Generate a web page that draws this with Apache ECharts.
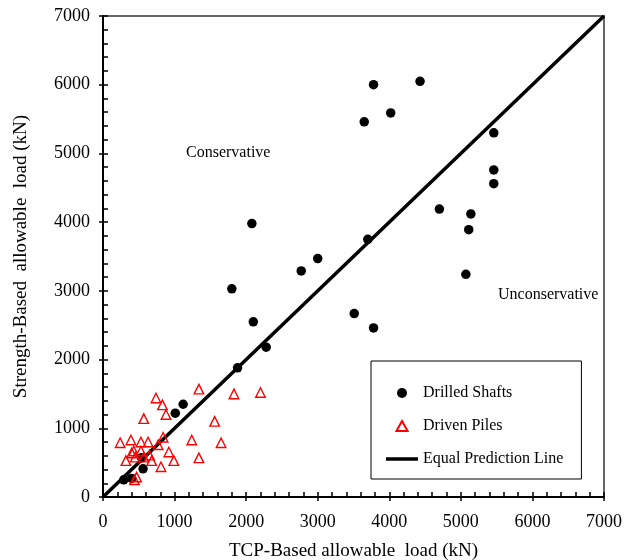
<!DOCTYPE html>
<html>
<head>
<meta charset="utf-8">
<script src="https://cdn.jsdelivr.net/npm/echarts@6/dist/echarts.min.js"></script>
<style>html,body{margin:0;padding:0;background:#fff}#c{width:633px;height:560px}</style>
</head>
<body>
<div id="c"></div>
<script>
// Drilled shafts (TCP-based x, strength-based y), kN
var shaftsX = [290, 400, 560, 540, 1010, 1120, 1880, 2280, 2100, 1800, 2080, 2770, 3000, 3700, 3510, 3780, 5070, 5110, 5140, 4700, 5460, 5460, 5460, 3650, 4020, 3780, 4430];
var shaftsY = [250, 270, 410, 570, 1220, 1350, 1880, 2180, 2550, 3030, 3980, 3290, 3470, 3750, 2670, 2460, 3240, 3890, 4120, 4190, 4560, 4760, 5300, 5460, 5590, 6000, 6050];
// Driven piles
var pilesX = [1340, 1830, 2200, 740, 830, 880, 570, 1560, 840, 1240, 1650, 240, 390, 530, 630, 770, 430, 530, 920, 650, 400, 450, 570, 320, 680, 990, 1340, 810, 470, 440];
var pilesY = [1570, 1500, 1520, 1440, 1340, 1200, 1140, 1100, 870, 830, 790, 790, 830, 800, 800, 760, 670, 670, 655, 610, 640, 580, 580, 530, 530, 530, 570, 440, 290, 250];
// Equal prediction line
var lineX = [0, 7000];
var lineY = [0, 7000];
var tickValues = [0, 1000, 2000, 3000, 4000, 5000, 6000, 7000];

var FONT = 'Liberation Serif';
function pairs(xs, ys) { return xs.map(function (x, i) { return [x, ys[i]]; }); }

var chart = echarts.init(document.getElementById('c'), null, { renderer: 'canvas' });
var axisBase = {
  type: 'value', min: tickValues[0], max: tickValues[tickValues.length - 1], interval: 1000,
  splitLine: { show: false }
};
var option = {
  backgroundColor: '#fff',
  animation: false,
  textStyle: { fontFamily: FONT },
  grid: { left: 103, right: 29, top: 16, bottom: 63, containLabel: false, outerBoundsMode: 'none',
    show: true, borderColor: '#666', borderWidth: 2, backgroundColor: 'transparent' },
  legend: {
    orient: 'vertical', left: 371, top: 361,
    padding: [24, 18, 12, 15], itemGap: 17, itemWidth: 32, itemHeight: 10,
    symbolKeepAspect: true,
    borderColor: '#000', borderWidth: 1, backgroundColor: '#fff',
    textStyle: { fontFamily: FONT, fontSize: 16, color: '#000' },
    data: [
      { name: 'Drilled Shafts', icon: 'circle' },
      { name: 'Driven Piles', icon: 'path://M5,0 L10,9 L0,9 Z' },
      { name: 'Equal Prediction Line', icon: 'path://M0,0 L32,0 L32,3.5 L0,3.5 Z' }
    ]
  },
  xAxis: [
    Object.assign({}, axisBase, {
      position: 'bottom',
      name: 'TCP-Based allowable  load (kN)', nameLocation: 'middle', nameGap: 45,
      nameTextStyle: { fontFamily: FONT, fontSize: 19, color: '#000' },
      axisLine: { onZero: false, lineStyle: { color: '#000', width: 2 } },
      axisTick: { inside: true, length: 5, lineStyle: { color: '#000', width: 1.5 } },
      minorTick: { show: true, splitNumber: 5, length: 5, lineStyle: { color: '#000', width: 1.5 } },
      axisLabel: { fontFamily: FONT, fontSize: 18, color: '#000', margin: 16,
        formatter: function (v) { return String(v); } }
    }),
    Object.assign({}, axisBase, {
      position: 'bottom',
      axisLine: { show: false }, axisLabel: { show: false },
      axisTick: { inside: false, length: 4, lineStyle: { color: '#000', width: 1.5 } }
    })
  ],
  yAxis: [
    Object.assign({}, axisBase, {
      position: 'left',
      name: 'Strength-Based  allowable  load (kN)', nameLocation: 'middle', nameGap: 72,
      nameTextStyle: { fontFamily: FONT, fontSize: 19, color: '#000' },
      axisLine: { onZero: false, lineStyle: { color: '#000', width: 2 } },
      axisTick: { inside: true, length: 5, lineStyle: { color: '#000', width: 1.5 } },
      minorTick: { show: true, splitNumber: 5, length: 5, lineStyle: { color: '#000', width: 1.5 } },
      axisLabel: { fontFamily: FONT, fontSize: 18, color: '#000', margin: 13,
        formatter: function (v) { return String(v); } }
    }),
    Object.assign({}, axisBase, {
      position: 'left',
      axisLine: { show: false }, axisLabel: { show: false },
      axisTick: { inside: false, length: 4, lineStyle: { color: '#000', width: 1.5 } }
    })
  ],
  graphic: [
    { type: 'text', left: 186, top: 145, style: { text: 'Conservative', fontFamily: FONT, fontSize: 16, fill: '#000' } },
    { type: 'text', left: 498, top: 287, style: { text: 'Unconservative', fontFamily: FONT, fontSize: 16, fill: '#000' } }
  ],
  series: [
    {
      name: 'Equal Prediction Line', type: 'line', data: pairs(lineX, lineY),
      showSymbol: false, symbol: 'none', z: 3,
      lineStyle: { color: '#000', width: 3.5 }, itemStyle: { color: '#000' }
    },
    {
      name: 'Drilled Shafts', type: 'scatter', data: pairs(shaftsX, shaftsY),
      symbol: 'circle', symbolSize: 9.5, z: 4,
      itemStyle: { color: '#000', opacity: 1 }
    },
    {
      name: 'Driven Piles', type: 'scatter', data: pairs(pilesX, pilesY),
      symbol: 'triangle', symbolSize: 9.5, z: 5,
      itemStyle: { color: 'rgba(255,255,255,0)', borderColor: '#ff0000', borderWidth: 1.4, opacity: 1 }
    }
  ]
};
chart.setOption(option);
</script>
</body>
</html>
